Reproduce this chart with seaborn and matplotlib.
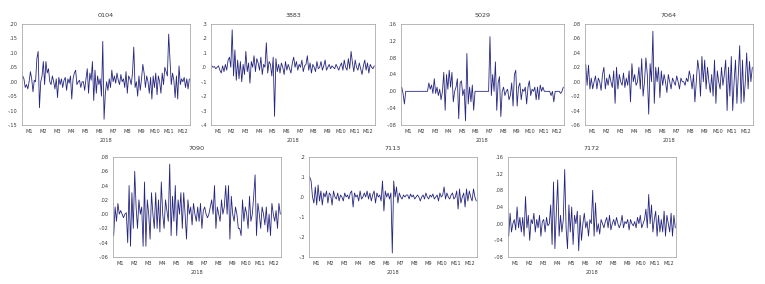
import matplotlib
matplotlib.use("Agg")
import matplotlib.pyplot as plt
import seaborn as sns
import numpy as np
import pandas as pd

months = ["M1", "M2", "M3", "M4", "M5", "M6", "M7", "M8", "M9", "M10", "M11", "M12"]
year_label = "2018"

s0104 = [0.02, 0.01, -0.02, -0.01, -0.025, 0.0, 0.035, 0.01, -0.035, 0.005,
         0.0, 0.08, 0.105, -0.09, 0.0, 0.02, 0.07, -0.01, 0.07, 0.03,
         0.045, 0.0, -0.01, 0.02, 0.0, -0.025, 0.01, -0.055, 0.015, -0.01,
         0.01, -0.02, 0.005, 0.015, -0.03, 0.01, -0.005, 0.02, -0.06, 0.01,
         0.03, 0.04, -0.01, 0.0, 0.005, -0.02, 0.0, 0.0, -0.03, 0.01,
         0.045, -0.04, 0.03, 0.005, 0.07, -0.065, 0.04, -0.04, 0.02, -0.01,
         0.01, -0.05, 0.14, -0.13, -0.04, 0.0, -0.03, 0.01, -0.02, 0.04,
         0.0, 0.02, -0.005, 0.03, 0.005, -0.01, 0.025, 0.0, 0.01, -0.02,
         0.035, -0.04, 0.02, 0.01, -0.01, 0.03, 0.12, -0.02, 0.0, -0.05,
         0.02, -0.03, 0.01, 0.06, 0.03, -0.02, 0.02, 0.0, -0.04, 0.015,
         -0.06, 0.02, -0.02, 0.03, -0.045, 0.02, 0.0, -0.04, 0.03, -0.01,
         0.05, 0.035, 0.02, 0.165, 0.08, -0.01, 0.03, 0.005, -0.055, 0.02,
         -0.06, 0.055, -0.01, 0.01, 0.0, 0.015, -0.02, 0.01, -0.025, 0.01]

s3883 = [0.01, 0.0, 0.005, -0.01, 0.0, 0.01, -0.02, -0.04, 0.01, -0.03,
         0.02, -0.02, 0.05, 0.07, 0.0, 0.26, -0.06, 0.12, -0.09, 0.05,
         -0.08, 0.04, -0.1, 0.02, -0.05, 0.11, -0.03, 0.03, -0.11, 0.04,
         0.0, 0.08, -0.03, 0.06, 0.03, -0.02, 0.07, -0.05, 0.02, 0.0,
         0.17, -0.04, 0.04, 0.02, -0.06, 0.07, -0.34, 0.06, -0.03, 0.02,
         -0.04, 0.03, 0.0, -0.05, 0.04, -0.02, 0.02, -0.01, -0.04, 0.03,
         0.07, 0.0, 0.04, -0.02, 0.02, 0.0, 0.05, -0.03, 0.01, 0.02,
         0.08, -0.02, 0.03, -0.04, 0.02, 0.0, -0.03, 0.04, -0.01, 0.0,
         0.04, -0.02, 0.01, 0.05, -0.02, 0.0, 0.02, -0.01, 0.01, 0.0,
         -0.01, 0.02, 0.0, -0.02, 0.01, 0.03, -0.02, 0.05, 0.0, -0.02,
         0.06, -0.01, 0.11, 0.03, -0.03, 0.05, 0.0, -0.02, 0.03, -0.01,
         -0.05, 0.01, 0.05, -0.02, 0.03, -0.04, 0.02, 0.0, -0.01, 0.01]

s5029 = [0.01, -0.005, -0.03, 0.0, 0.0, 0.0, 0.0, 0.0, 0.0, 0.0,
         0.0, 0.0, 0.0, 0.0, 0.0, 0.0, 0.0, 0.0, 0.0, 0.0,
         0.02, 0.005, 0.015, -0.005, 0.03, -0.005, 0.01, -0.01, 0.005, -0.02,
         0.0, 0.045, -0.045, 0.04, 0.005, 0.05, 0.01, 0.045, -0.025, 0.0,
         0.01, 0.03, -0.065, 0.02, 0.025, -0.01, 0.005, -0.07, 0.09, -0.03,
         0.01, -0.025, 0.015, -0.045, 0.0, 0.0, 0.0, 0.0, 0.0, 0.0,
         0.0, 0.0, 0.0, 0.0, 0.0, 0.13, -0.01, 0.04, 0.0, 0.07,
         -0.045, 0.02, 0.035, -0.06, 0.0, 0.01, -0.01, 0.0, 0.005, -0.02,
         -0.01, 0.02, -0.035, 0.04, 0.05, -0.035, 0.01, 0.02, -0.02, 0.005,
         0.0, 0.01, -0.03, 0.01, 0.025, -0.01, 0.005, 0.0, 0.01, -0.02,
         0.01, -0.02, 0.015, 0.0, 0.01, 0.0, 0.0, 0.0, 0.0, 0.0,
         -0.01, 0.0, -0.025, 0.0, 0.0, 0.0, 0.0, -0.005, 0.0, 0.01]

s7064 = [0.024, -0.005, 0.023, -0.01, 0.005, -0.01, 0.0, 0.008, -0.01, 0.005,
         0.0, -0.012, 0.01, 0.02, -0.01, 0.005, -0.005, 0.01, 0.0, -0.008,
         0.015, -0.03, 0.02, -0.01, 0.01, 0.0, -0.005, 0.012, -0.008, 0.005,
         -0.005, 0.015, -0.028, 0.025, 0.0, 0.01, -0.005, 0.0, 0.02, -0.01,
         0.032, -0.02, 0.0, 0.033, 0.01, -0.045, 0.025, 0.0, 0.07, -0.03,
         0.02, 0.0, 0.02, -0.022, 0.015, -0.005, 0.01, 0.0, -0.015, 0.01,
         0.0, -0.01, 0.005, 0.0, -0.005, 0.008, 0.0, -0.01, 0.005, 0.0,
         0.0, -0.005, 0.005, 0.0, 0.015, 0.005, -0.01, 0.01, -0.028, 0.0,
         0.03, 0.015, -0.02, 0.035, 0.0, 0.03, -0.01, 0.02, 0.0, -0.015,
         0.01, -0.02, 0.03, -0.03, 0.015, 0.0, -0.01, 0.02, -0.005, 0.01,
         0.03, -0.04, 0.02, -0.02, 0.035, -0.04, 0.0, 0.03, -0.03, 0.01,
         0.05, -0.03, 0.03, -0.028, 0.0, 0.04, -0.01, 0.028, 0.0, 0.02]

s7090 = [-0.03, 0.01, -0.01, 0.015, 0.0, 0.005, 0.0, -0.005, 0.0, 0.002,
         -0.04, 0.04, -0.045, 0.03, -0.02, 0.06, 0.01, -0.02, 0.02, 0.0,
         0.01, -0.045, 0.045, -0.045, 0.02, 0.0, -0.035, 0.03, 0.0, -0.02,
         0.03, -0.02, 0.02, -0.025, 0.045, 0.0, -0.02, 0.02, 0.005, -0.01,
         0.07, -0.03, 0.025, -0.01, 0.04, -0.03, 0.02, 0.0, 0.03, -0.02,
         0.03, 0.0, -0.035, 0.02, 0.0, 0.01, -0.015, 0.015, 0.0, -0.01,
         0.01, -0.01, 0.015, -0.02, 0.005, 0.01, 0.0, -0.005, 0.0, 0.01,
         0.02, 0.0, 0.04, -0.02, 0.01, 0.0, -0.01, 0.02, 0.0, 0.01,
         0.04, 0.0, 0.04, -0.035, 0.025, 0.0, -0.01, 0.01, 0.0, -0.02,
         -0.02, -0.03, 0.02, -0.01, 0.01, 0.0, -0.02, 0.025, -0.01, 0.0,
         0.025, 0.055, -0.03, 0.015, 0.0, -0.02, 0.01, 0.0, -0.015, 0.01,
         -0.025, 0.0, -0.03, 0.015, 0.0, -0.01, 0.005, -0.02, 0.015, 0.0]

s7113 = [0.1, 0.08, 0.0, -0.03, 0.05, -0.04, 0.06, -0.02, 0.03, -0.04,
         0.02, 0.0, 0.03, -0.03, 0.02, 0.01, -0.04, 0.03, 0.0, -0.01,
         0.02, -0.02, 0.01, 0.0, -0.02, 0.02, 0.0, 0.01, -0.01, 0.02,
         0.03, -0.05, 0.02, 0.0, 0.01, -0.02, 0.03, -0.01, 0.0, 0.02,
         0.0, 0.03, -0.01, 0.02, -0.02, 0.01, 0.03, -0.03, 0.02, 0.0,
         0.01, -0.02, 0.08, -0.07, 0.03, 0.0, 0.02, -0.01, 0.02, -0.28,
         0.08, 0.0, 0.05, -0.03, 0.02, 0.0, -0.01, 0.01, 0.0, 0.01,
         0.01, -0.01, 0.015, 0.0, 0.01, -0.01, 0.0, 0.01, 0.0, -0.02,
         0.0, 0.01, -0.01, 0.02, 0.0, -0.01, 0.01, 0.0, 0.015, -0.01,
         0.0, 0.01, -0.02, 0.02, 0.0, 0.01, 0.05, -0.01, 0.02, 0.0,
         -0.01, 0.01, 0.02, -0.01, 0.0, 0.03, -0.06, 0.04, -0.03, 0.0,
         0.02, -0.05, 0.04, -0.02, 0.03, 0.0, -0.02, 0.04, 0.0, -0.02]

s7172 = [-0.03, 0.025, -0.02, 0.0, 0.01, -0.015, 0.04, -0.01, 0.015, -0.02,
         0.015, -0.03, 0.065, -0.01, 0.02, -0.04, 0.01, 0.0, 0.025, -0.02,
         0.01, -0.01, 0.02, -0.03, 0.005, 0.01, -0.02, 0.015, -0.005, 0.0,
         0.045, -0.05, 0.1, -0.06, 0.025, 0.105, -0.03, 0.02, -0.02, 0.01,
         0.13, -0.01, -0.06, 0.045, -0.02, 0.04, -0.05, 0.02, 0.0, 0.03,
         -0.065, 0.02, -0.04, 0.0, 0.025, -0.01, 0.005, -0.03, 0.01, 0.0,
         0.08, -0.03, 0.05, -0.02, 0.0, -0.025, 0.01, 0.0, -0.01, 0.005,
         0.015, -0.01, 0.02, -0.015, 0.0, 0.01, -0.005, 0.015, 0.0, -0.01,
         0.0, 0.02, -0.01, 0.005, 0.0, 0.01, -0.015, 0.01, 0.0, -0.005,
         0.005, -0.01, 0.015, 0.0, 0.02, -0.01, 0.0, 0.01, 0.035, -0.01,
         0.07, 0.0, 0.045, -0.02, 0.01, 0.03, -0.03, 0.02, -0.02, 0.01,
         -0.02, 0.03, -0.03, 0.02, 0.0, -0.02, 0.025, -0.03, 0.02, -0.01]

# title, series, y range (lo, hi, step), decimals in tick labels
panels = [
    ("0104", s0104, (-0.15, 0.20, 0.05), 2),
    ("3883", s3883, (-0.4, 0.3, 0.1), 1),
    ("5029", s5029, (-0.08, 0.16, 0.04), 2),
    ("7064", s7064, (-0.06, 0.08, 0.02), 2),
    ("7090", s7090, (-0.06, 0.08, 0.02), 2),
    ("7113", s7113, (-0.3, 0.2, 0.1), 1),
    ("7172", s7172, (-0.08, 0.16, 0.04), 2),
]

# axes boxes in pixels: left, right, top, bottom
W, H = 765, 284
boxes = [(22, 190, 24, 125), (211, 375, 24, 125), (401, 564, 24, 125), (585, 753, 24, 125),
         (113, 281, 157, 257), (309, 477, 157, 257), (508, 676, 157, 257)]


def eviews_label(v, d):
    s = f"{v:.{d}f}"
    if s.startswith("-") and float(s) == 0:
        s = s[1:]
    return s.replace("0.", ".", 1) if s.lstrip("-").startswith("0.") else s


sns.set_style("white")
plt.rcParams['font.family'] = ['DejaVu Sans']
line_color = "#26267f"
text_color = "#3a3a3a"

fig = plt.figure(figsize=(W / 100, H / 100), dpi=100)

for (title, vals, (lo, hi, step), dec), (l, r, t, b) in zip(panels, boxes):
    ax = fig.add_axes([l / W, 1 - b / H, (r - l) / W, (b - t) / H])
    n = len(vals)
    per_month = n / len(months)
    df = pd.DataFrame({"day": np.arange(n), "value": vals})
    sns.lineplot(data=df, x="day", y="value", ax=ax, color=line_color, linewidth=0.6)
    ax.set_xlim(-0.5, n - 0.5)
    ax.set_ylim(lo, hi)
    yt = np.round(np.arange(lo, hi + step / 2, step), 4)
    ax.set_yticks(yt)
    ax.set_yticklabels([eviews_label(v, dec) for v in yt])
    xt = [i * per_month + per_month * 0.45 for i in range(len(months))]
    ax.set_xticks(xt)
    ax.set_xticklabels(months)
    ax.tick_params(axis="both", labelsize=3.6, colors=text_color, length=1.5, width=0.4, pad=1.5,
                   direction="out")
    ax.set_xlabel(year_label, fontsize=3.6, color=text_color, labelpad=2.5)
    ax.set_ylabel("")
    ax.set_title(title, fontsize=4.6, color=text_color, pad=5)
    for sp in ax.spines.values():
        sp.set_color("#9a9a9a")
        sp.set_linewidth(0.5)

fig.savefig("out.png", dpi=100)
